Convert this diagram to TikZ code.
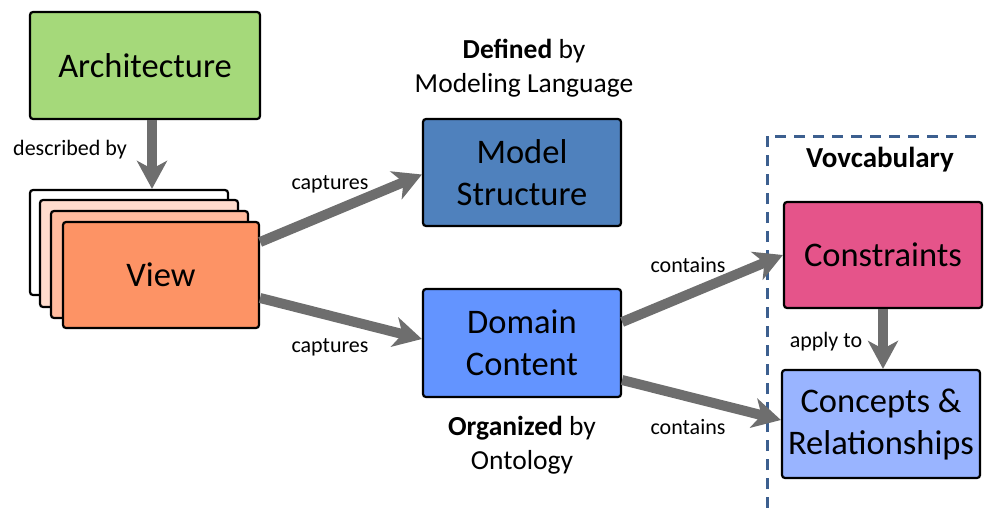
\documentclass[tikz,border=0pt]{standalone}
\usepackage{fontspec}
\setmainfont{Carlito}
\usetikzlibrary{arrows.meta}
\definecolor{archgreen}{HTML}{A5D97A}
\definecolor{vieworange}{HTML}{FD9365}
\definecolor{cardlight}{HTML}{FFDCCD}
\definecolor{cardmid}{HTML}{FFBB9E}
\definecolor{msblue}{HTML}{4F81BD}
\definecolor{dcblue}{HTML}{6394FF}
\definecolor{conspink}{HTML}{E5548A}
\definecolor{concblue}{HTML}{99B4FF}
\definecolor{arrowgray}{HTML}{6E6E6E}
\definecolor{dashblue}{HTML}{3C5F8F}
\begin{document}
\begin{tikzpicture}[x=1pt,y=-1pt,
  box/.style={draw=black, line width=2.2pt, rounded corners=3pt,
    font=\fontsize{34.5}{42}\selectfont, align=center, inner sep=0pt},
  lbl/.style={font=\fontsize{22}{26}\selectfont, inner sep=0pt},
  head/.style={font=\fontsize{27.5}{33.5}\selectfont, align=center, inner sep=0pt},
  bigarrow/.style={draw=arrowgray, line width=10pt,
    -{Stealth[length=28pt,width=30pt,inset=8pt]}},
  dashline/.style={draw=dashblue, line width=3pt, dash pattern=on 11pt off 8pt}]
\useasboundingbox (0,0) rectangle (984,508);

% vocabulary frame
\draw[dashline] (767,508) -- (767,136) -- (990,136);

% boxes
\node[box, fill=archgreen, minimum width=230pt, minimum height=107pt] (arch) at (145,65.5) {Architecture};
\node[box, fill=white, minimum width=198pt, minimum height=105pt] (c1) at (129,242.5) {};
\node[box, fill=cardlight, minimum width=198pt, minimum height=107pt] (c2) at (139,253.5) {};
\node[box, fill=cardmid, minimum width=197pt, minimum height=107pt] (c3) at (149.5,264.5) {};
\node[box, fill=vieworange, minimum width=196pt, minimum height=106pt] (view) at (161,275) {View};
\node[box, fill=msblue, minimum width=198pt, minimum height=107pt] (ms) at (522,172.5) {Model\\Structure};
\node[box, fill=dcblue, minimum width=198pt, minimum height=108pt] (dc) at (522,343) {Domain\\Content};
\node[box, fill=conspink, minimum width=198pt, minimum height=106pt] (cons) at (883,255) {Constraints};
\node[box, fill=concblue, minimum width=198pt, minimum height=108pt] (conc) at (881,424) {Concepts \&\\Relationships};

% headings
\node[head] (defined) at (524,68) {\textbf{Defined} by\\Modeling Language};
\node[head] (organized) at (522,445) {\textbf{Organized} by\\Ontology};
\node[head, font=\fontsize{29}{34}\selectfont\bfseries] (vocab) at (880,160) {Vovcabulary};

% labels
\node[lbl] (ldesc) at (70,150) {described by};
\node[lbl] (lcap1) at (330,184) {captures};
\node[lbl] (lcap2) at (330,347) {captures};
\node[lbl] (lcon1) at (688,265) {contains};
\node[lbl] (lcon2) at (688,427) {contains};
\node[lbl] (lapply) at (826,342) {apply to};

% connectors
\draw[bigarrow] ([xshift=7pt]arch.south) -- ([xshift=23pt]c1.north);
\draw[bigarrow] ([yshift=33pt]view.east) -- ([yshift=-2pt]ms.west);
\draw[bigarrow] ([yshift=-23pt]view.east) -- ([yshift=4pt]dc.west);
\draw[bigarrow] ([yshift=21pt]dc.east) -- (cons.west);
\draw[bigarrow] ([yshift=-37pt]dc.east) -- ([yshift=4pt]conc.west);
\draw[bigarrow] (cons.south) -- ([xshift=2pt]conc.north);
\end{tikzpicture}
\end{document}
